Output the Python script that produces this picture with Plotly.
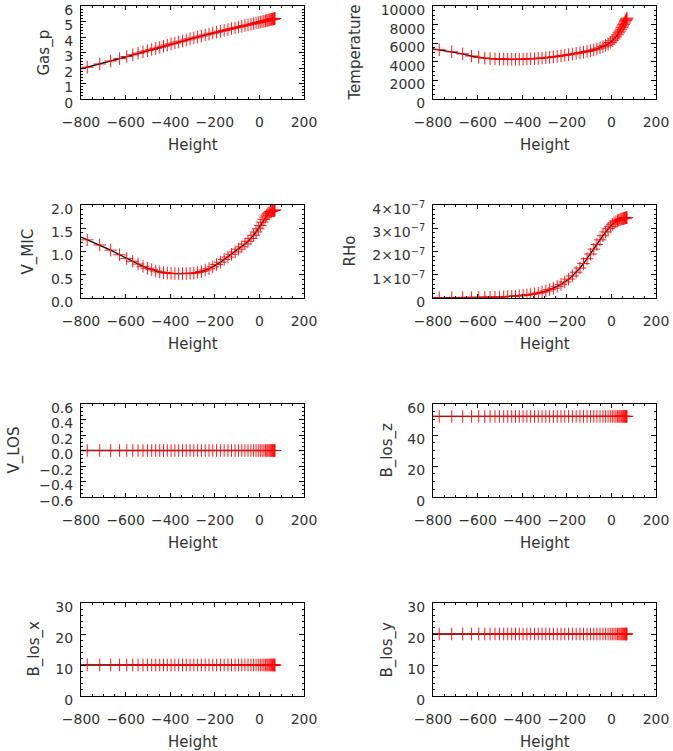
import plotly.graph_objects as go

# ---------------- data ----------------
height = [-800, -772, -716, -667, -627, -595, -568, -544, -522, -502, -483, -465, -447, -430,
          -413, -396, -379, -362, -345, -328, -311, -294, -277, -260, -243, -226, -209, -192,
          -175, -158, -141, -125, -109, -94, -79, -65, -51, -38, -26, -15, -5, 4, 12, 20, 27,
          33, 38, 43, 47, 51, 55, 58, 61, 64, 66, 68, 70]

gas_p = [1.95, 2.05, 2.26, 2.45, 2.61, 2.74, 2.85, 2.95, 3.04, 3.12, 3.20, 3.27, 3.34, 3.41,
         3.48, 3.55, 3.61, 3.68, 3.74, 3.81, 3.88, 3.94, 4.00, 4.06, 4.13, 4.19, 4.25, 4.31,
         4.37, 4.42, 4.48, 4.54, 4.59, 4.64, 4.69, 4.74, 4.78, 4.82, 4.86, 4.90, 4.93, 4.96,
         4.99, 5.02, 5.04, 5.06, 5.08, 5.10, 5.11, 5.13, 5.14, 5.15, 5.16, 5.17, 5.18, 5.19, 5.20]

temperature = [5400, 5300, 5080, 4850, 4620, 4480, 4400, 4340, 4310, 4290, 4280, 4270, 4270, 4270,
               4280, 4290, 4300, 4320, 4340, 4370, 4400, 4440, 4480, 4530, 4580, 4640, 4700, 4760,
               4830, 4900, 4970, 5040, 5110, 5190, 5280, 5380, 5490, 5620, 5760, 5910, 6080, 6260,
               6460, 6680, 6900, 7110, 7300, 7500, 7670, 7850, 8020, 8160, 8300, 8430, 8520, 8610, 8700]

v_mic = [1.31, 1.25, 1.14, 1.03, 0.93, 0.85, 0.79, 0.73, 0.68, 0.64, 0.61, 0.58, 0.56, 0.545,
         0.535, 0.53, 0.525, 0.525, 0.525, 0.525, 0.53, 0.535, 0.55, 0.57, 0.60, 0.63, 0.67, 0.72,
         0.77, 0.83, 0.88, 0.94, 0.99, 1.05, 1.10, 1.16, 1.22, 1.28, 1.35, 1.42, 1.49, 1.56,
         1.63, 1.69, 1.74, 1.78, 1.81, 1.83, 1.85, 1.86, 1.87, 1.875, 1.88, 1.88, 1.885, 1.89, 1.89]

# density in units of 1e-7
rho_e7 = [0.004, 0.005, 0.008, 0.012, 0.016, 0.021, 0.026, 0.032, 0.038, 0.045, 0.053, 0.062,
          0.072, 0.083, 0.096, 0.11, 0.13, 0.15, 0.18, 0.21, 0.25, 0.30, 0.36, 0.42, 0.50, 0.59,
          0.69, 0.81, 0.95, 1.11, 1.29, 1.48, 1.69, 1.89, 2.10, 2.30, 2.50, 2.68, 2.84, 2.98,
          3.08, 3.17, 3.23, 3.28, 3.32, 3.35, 3.37, 3.39, 3.40, 3.41, 3.42, 3.43, 3.44, 3.45,
          3.45, 3.46, 3.46]

v_los = [0.0, 0.0, 0.0, 0.0, 0.0, 0.0, 0.0, 0.0, 0.0, 0.0, 0.0, 0.0, 0.0, 0.0, 0.0, 0.0, 0.0,
         0.0, 0.0, 0.0, 0.0, 0.0, 0.0, 0.0, 0.0, 0.0, 0.0, 0.0, 0.0, 0.0, 0.0, 0.0, 0.0, 0.0,
         0.0, 0.0, 0.0, 0.0, 0.0, 0.0, 0.0, 0.0, 0.0, 0.0, 0.0, 0.0, 0.0, 0.0, 0.0, 0.0, 0.0,
         0.0, 0.0, 0.0, 0.0, 0.0, 0.0]

b_los_z = [52, 52, 52, 52, 52, 52, 52, 52, 52, 52, 52, 52, 52, 52, 52, 52, 52, 52, 52, 52, 52,
           52, 52, 52, 52, 52, 52, 52, 52, 52, 52, 52, 52, 52, 52, 52, 52, 52, 52, 52, 52, 52,
           52, 52, 52, 52, 52, 52, 52, 52, 52, 52, 52, 52, 52, 52, 52]

b_los_x = [10, 10, 10, 10, 10, 10, 10, 10, 10, 10, 10, 10, 10, 10, 10, 10, 10, 10, 10, 10, 10,
           10, 10, 10, 10, 10, 10, 10, 10, 10, 10, 10, 10, 10, 10, 10, 10, 10, 10, 10, 10, 10,
           10, 10, 10, 10, 10, 10, 10, 10, 10, 10, 10, 10, 10, 10, 10]

b_los_y = [20, 20, 20, 20, 20, 20, 20, 20, 20, 20, 20, 20, 20, 20, 20, 20, 20, 20, 20, 20, 20,
           20, 20, 20, 20, 20, 20, 20, 20, 20, 20, 20, 20, 20, 20, 20, 20, 20, 20, 20, 20, 20,
           20, 20, 20, 20, 20, 20, 20, 20, 20, 20, 20, 20, 20, 20, 20]

x_tickvals = [-800, -600, -400, -200, 0, 200]
x_ticktext = ["\u2212800", "\u2212600", "\u2212400", "\u2212200", "0", "200"]

temp_tickvals = [0, 2000, 4000, 6000, 8000, 10000]
temp_ticktext = ["0", "2000", "4000", "6000", "8000", "10000"]

rho_tickvals = [0, 1e-7, 2e-7, 3e-7, 4e-7]
rho_ticktext = ["0", "1\u00d710<sup>\u22127</sup>", "2\u00d710<sup>\u22127</sup>",
                "3\u00d710<sup>\u22127</sup>", "4\u00d710<sup>\u22127</sup>"]

# ---------------- panels ----------------
rho = [v * 1e-7 for v in rho_e7]

panels = [
    dict(name="Gas_p", y=gas_p, rng=[0, 6], tv=[0, 1, 2, 3, 4, 5, 6],
         tt=["0", "1", "2", "3", "4", "5", "6"], minor=0.2, tx=44),
    dict(name="Temperature", y=temperature, rng=[0, 10000],
         tv=temp_tickvals, tt=temp_ticktext, minor=500, tx=355),
    dict(name="V_MIC", y=v_mic, rng=[0, 2], tv=[0, 0.5, 1.0, 1.5, 2.0],
         tt=["0.0", "0.5", "1.0", "1.5", "2.0"], minor=0.1, tx=28),
    dict(name="RHo", y=rho, rng=[0, 4e-7], tv=rho_tickvals, tt=rho_ticktext, minor=0.2e-7, tx=349),
    dict(name="V_LOS", y=v_los, rng=[-0.6, 0.6], tv=[-0.6, -0.4, -0.2, 0.0, 0.2, 0.4, 0.6],
         tt=["\u22120.6", "\u22120.4", "\u22120.2", "0.0", "0.2", "0.4", "0.6"], minor=0.05, tx=14),
    dict(name="B_los_z", y=b_los_z, rng=[0, 60], tv=[0, 20, 40, 60],
         tt=["0", "20", "40", "60"], minor=5, tx=387),
    dict(name="B_los_x", y=b_los_x, rng=[0, 30], tv=[0, 10, 20, 30],
         tt=["0", "10", "20", "30"], minor=2, tx=34),
    dict(name="B_los_y", y=b_los_y, rng=[0, 30], tv=[0, 10, 20, 30],
         tt=["0", "10", "20", "30"], minor=2, tx=387),
]

W, H = 673, 751
col_px = [(81, 304), (433, 656)]
row_px = [(6, 99), (205, 298), (404, 497), (603, 696)]

FONT = "DejaVu Sans"
TXT = "#333"
fig = go.Figure()
layout = {}
annotations = []

for i, p in enumerate(panels):
    r, c = divmod(i, 2)
    k = i + 1
    xs = "" if k == 1 else str(k)
    x0, x1 = col_px[c]
    y0, y1 = row_px[r]

    fig.add_trace(go.Scatter(x=height, y=p["y"], mode="lines",
                             line=dict(color="black", width=1.3),
                             xaxis="x" + xs, yaxis="y" + xs, showlegend=False,
                             hoverinfo="skip"))
    fig.add_trace(go.Scatter(x=height[1:], y=p["y"][1:], mode="markers",
                             marker=dict(symbol="cross-thin", size=9, color="red",
                                         line=dict(color="rgba(255,0,0,0.9)", width=1)),
                             xaxis="x" + xs, yaxis="y" + xs, showlegend=False,
                             hoverinfo="skip"))

    layout["xaxis" + xs] = dict(
        domain=[x0 / W, x1 / W], anchor="y" + xs, range=[-800, 200], automargin=False,
        tickmode="array", tickvals=x_tickvals, ticktext=x_ticktext,
        ticks="inside", ticklen=4, tickcolor="black", mirror="ticks",
        showline=True, linecolor="black", linewidth=1, showgrid=False, zeroline=False,
        minor=dict(ticks="inside", ticklen=2, dtick=50, tickcolor="black", showgrid=False),
        tickfont=dict(family=FONT, size=14, color=TXT), ticklabelstandoff=10,
    )
    layout["yaxis" + xs] = dict(
        domain=[1 - y1 / H, 1 - y0 / H], anchor="x" + xs, range=p["rng"], automargin=False,
        tickmode="array", tickvals=p["tv"], ticktext=p["tt"], ticklabeloverflow="allow",
        ticklabelshift=4,
        ticks="inside", ticklen=5, tickcolor="black", mirror="ticks",
        showline=True, linecolor="black", linewidth=1, showgrid=False, zeroline=False,
        minor=dict(ticks="inside", ticklen=2, dtick=p["minor"], tickcolor="black", showgrid=False),
        tickfont=dict(family=FONT, size=14, color=TXT), ticklabelstandoff=4,
    )

    annotations.append(dict(text=p["name"], x=p["tx"] / W, y=1 - (y0 + y1) / 2 / H,
                            xref="paper", yref="paper", showarrow=False, textangle=-90,
                            xanchor="center", yanchor="middle",
                            font=dict(family=FONT, size=15, color=TXT)))
    annotations.append(dict(text="Height", x=(x0 + x1) / 2 / W, y=1 - (y1 + 46) / H,
                            xref="paper", yref="paper", showarrow=False,
                            xanchor="center", yanchor="middle",
                            font=dict(family=FONT, size=15, color=TXT)))

fig.update_layout(**layout)
fig.update_layout(width=W, height=H, margin=dict(l=0, r=0, t=0, b=0, autoexpand=False),
                  paper_bgcolor="white", plot_bgcolor="white",
                  annotations=annotations, hovermode=False)
fig.write_html("out.html", config={"displayModeBar": False, "staticPlot": True},
               post_script="document.body.style.margin='0px';document.body.style.padding='0px';")
